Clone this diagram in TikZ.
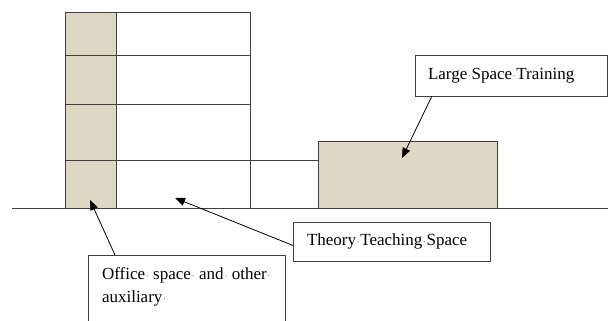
\documentclass[tikz,border=0pt]{standalone}
\usepackage{fontspec}
\setmainfont{Liberation Serif}
\usepackage{graphicx}
\usetikzlibrary{positioning,arrows.meta,calc}
\usepackage{xcolor}

\definecolor{khaki}{HTML}{DCD8C3}
\definecolor{edge}{HTML}{404040}
% word separator as shown with formatting marks on
\newcommand{\spdot}{\makebox[0.25em][c]{\textcolor{gray}{\scalebox{0.6}{\textperiodcentered}}}}

\begin{document}
\begin{tikzpicture}[
    x=1pt, y=-1pt,
    font=\fontsize{17}{23}\selectfont,
    >={Triangle[length=10pt,width=8pt]},
    cell/.style={draw=edge, line width=0.8pt, inner sep=0pt, outer sep=0pt, anchor=north west},
    office/.style={cell, fill=khaki, minimum width=51pt},
    room/.style={cell, fill=white, minimum width=134pt},
    label/.style={draw=edge, line width=0.8pt, fill=white, anchor=north west, align=left,
                  inner xsep=14pt, inner ysep=0pt, outer sep=0pt},
    callout/.style={->, line width=0.8pt, black}
]
\clip (0,0) rectangle (608,321);
\useasboundingbox (0,0) rectangle (608,321);

% --- Ground ---
\coordinate (gl) at (12,208);
\coordinate (gr) at (608,208);
\draw[edge, line width=0.8pt] (gl) -- (gr);

% --- Teaching building ---
\foreach \i/\ya/\yb in {1/12/55, 2/55/104, 3/104/160, 4/160/208}{
  \node[office, minimum height={(\yb-\ya)*1pt}] (off\i) at (65,\ya) {};
  \node[room, minimum height={(\yb-\ya)*1pt}] (cls\i) at (116,\ya) {};
}

% --- Training hall ---
\node[cell, fill=khaki, minimum width=179pt, minimum height=67pt] (train) at (318,141) {};
\draw[edge, line width=0.8pt] (cls4.north east) -- (cls4.north east -| train.west);

% --- Labels ---
\node[label, text width=166pt, minimum height=41pt, inner xsep=13pt] (lst) at (415,55)
  {Large\spdot Space\spdot Training};
\node[label, text width=169pt, minimum height=39pt] (tts) at (293,222)
  {Theory\spdot Teaching\spdot Space};
\node[label, text width=169pt, inner ysep=13pt, text depth=70pt] (osa) at (88,255)
  {Office\spdot\hfill space\spdot\hfill and\spdot\hfill other\spdot\\ auxiliary\spdot};

% --- Callouts ---
\coordinate (lstip) at (402,158);
\coordinate (ttip) at (175,198);
\coordinate (otip) at (90,200);
\draw[callout] ([xshift=17pt]lst.south west) -- (lstip);
\draw[callout] ([yshift=-4pt]tts.west) -- (ttip);
\draw[callout] ([xshift=27pt]osa.north west) -- (otip);

\end{tikzpicture}
\end{document}
